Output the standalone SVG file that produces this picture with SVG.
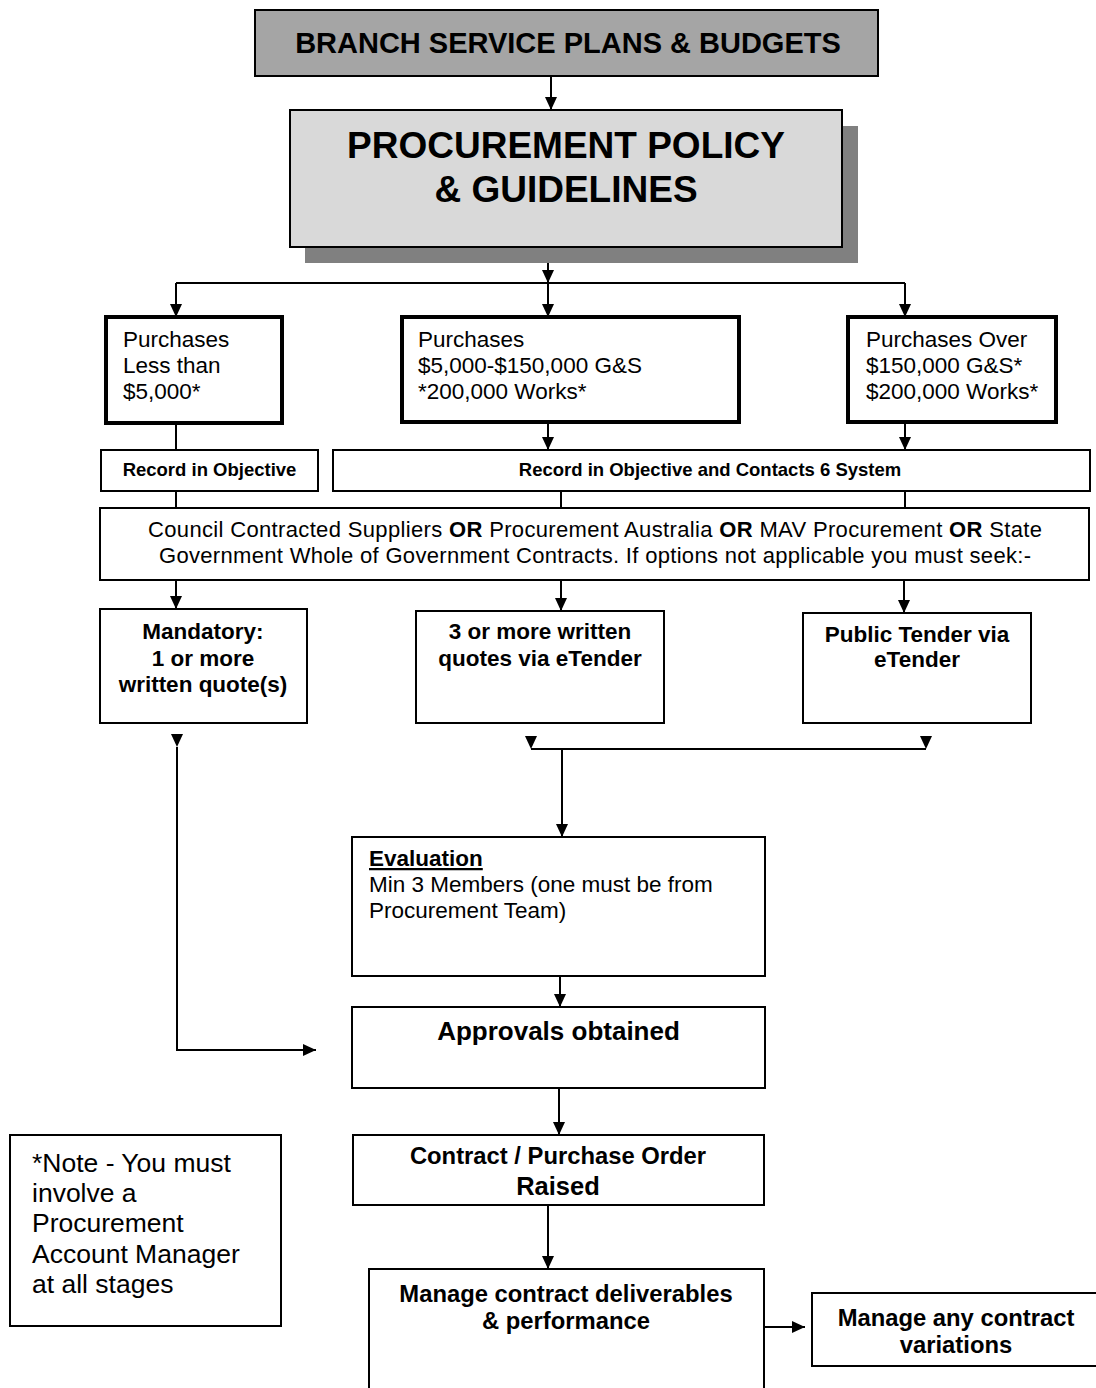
<svg xmlns="http://www.w3.org/2000/svg" width="1096" height="1388" viewBox="0 0 1096 1388">
<style>
text{font-family:"Liberation Sans",Arial,sans-serif;fill:#000}
.b{font-weight:bold}
.box{fill:#fff;stroke:#000;stroke-width:2}
.thick{fill:#fff;stroke:#000;stroke-width:4}
.c line,.c polyline{stroke:#000;stroke-width:2;fill:none}
.tri{fill:#000;stroke:none}
.mid{text-anchor:middle}
</style>
<defs>
<marker id="ah" markerUnits="userSpaceOnUse" viewBox="0 0 13 12" markerWidth="13" markerHeight="12" refX="13" refY="6" orient="auto">
<path d="M0,0 L13,6 L0,12 z" fill="#000"/>
</marker>
</defs>

<g id="connectors" class="c">
<line x1="551" y1="76" x2="551" y2="110" marker-end="url(#ah)"/>
<line x1="548" y1="247" x2="548" y2="283" marker-end="url(#ah)"/>
<line x1="176" y1="283" x2="905" y2="283"/>
<line x1="176" y1="283" x2="176" y2="317" marker-end="url(#ah)"/>
<line x1="548" y1="283" x2="548" y2="317" marker-end="url(#ah)"/>
<line x1="905" y1="283" x2="905" y2="317" marker-end="url(#ah)"/>
<line x1="176" y1="423" x2="176" y2="450"/>
<line x1="548" y1="422" x2="548" y2="450" marker-end="url(#ah)"/>
<line x1="905" y1="422" x2="905" y2="450" marker-end="url(#ah)"/>
<line x1="176" y1="491" x2="176" y2="508"/>
<line x1="561" y1="491" x2="561" y2="508"/>
<line x1="905" y1="491" x2="905" y2="508"/>
<line x1="176" y1="580" x2="176" y2="609" marker-end="url(#ah)"/>
<line x1="561" y1="580" x2="561" y2="611" marker-end="url(#ah)"/>
<line x1="904" y1="580" x2="904" y2="613" marker-end="url(#ah)"/>
<path class="tri" d="M171,734 L183,734 L177,747 z"/>
<path class="tri" d="M525,736 L537,736 L531,749 z"/>
<path class="tri" d="M920,736 L932,736 L926,749 z"/>
<polyline points="177,747 177,1050 316,1050" marker-end="url(#ah)"/>
<line x1="531" y1="749" x2="926" y2="749"/>
<line x1="562" y1="749" x2="562" y2="837" marker-end="url(#ah)"/>
<line x1="560" y1="976" x2="560" y2="1007" marker-end="url(#ah)"/>
<line x1="559" y1="1088" x2="559" y2="1135" marker-end="url(#ah)"/>
<line x1="548" y1="1205" x2="548" y2="1269" marker-end="url(#ah)"/>
<line x1="764" y1="1327" x2="805" y2="1327" marker-end="url(#ah)"/>
</g>

<g id="branch">
<rect x="255" y="10" width="623" height="66" fill="#a5a5a5" stroke="#000" stroke-width="2"/>
<text class="b mid" x="568" y="53" font-size="29">BRANCH SERVICE PLANS &amp; BUDGETS</text>
</g>

<g id="policy">
<rect x="305" y="126" width="553" height="137" fill="#808080"/>
<rect x="290" y="110" width="552" height="137" fill="#d9d9d9" stroke="#000" stroke-width="2"/>
<text class="b mid" x="566" y="158" font-size="37">PROCUREMENT POLICY</text>
<text class="b mid" x="566" y="202" font-size="37">&amp; GUIDELINES</text>
</g>

<g id="p-less">
<rect class="thick" x="106" y="317" width="176" height="106"/>
<text x="123" y="347" font-size="22.5">Purchases</text>
<text x="123" y="373" font-size="22.5">Less than</text>
<text x="123" y="399" font-size="22.5">$5,000*</text>
</g>

<g id="p-mid">
<rect class="thick" x="402" y="317" width="337" height="105"/>
<text x="418" y="347" font-size="22.5">Purchases</text>
<text x="418" y="373" font-size="22.5">$5,000-$150,000 G&amp;S</text>
<text x="418" y="399" font-size="22.5">*200,000 Works*</text>
</g>

<g id="p-over">
<rect class="thick" x="848" y="317" width="208" height="105"/>
<text x="866" y="347" font-size="22.5">Purchases Over</text>
<text x="866" y="373" font-size="22.5">$150,000 G&amp;S*</text>
<text x="866" y="399" font-size="22.5">$200,000 Works*</text>
</g>

<g id="rec1">
<rect class="box" x="101" y="450" width="217" height="41"/>
<text class="b mid" x="209.5" y="476" font-size="18.5">Record in Objective</text>
</g>

<g id="rec2">
<rect class="box" x="333" y="450" width="757" height="41"/>
<text class="b mid" x="710" y="476" font-size="18.5">Record in Objective and Contacts 6 System</text>
</g>

<g id="council">
<rect class="box" x="100" y="508" width="989" height="72"/>
<text class="mid" x="595" y="537" font-size="22" textLength="894">Council Contracted Suppliers <tspan class="b">OR</tspan> Procurement Australia <tspan class="b">OR</tspan> MAV Procurement <tspan class="b">OR</tspan> State</text>
<text class="mid" x="595" y="563" font-size="22" textLength="872">Government Whole of Government Contracts. If options not applicable you must seek:-</text>
</g>

<g id="mandatory">
<rect class="box" x="100" y="609" width="207" height="114"/>
<text class="b mid" x="203" y="639" font-size="22.5">Mandatory:</text>
<text class="b mid" x="203" y="666" font-size="22.5">1 or more</text>
<text class="b mid" x="203" y="692" font-size="22.5">written quote(s)</text>
</g>

<g id="three-quotes">
<rect class="box" x="416" y="611" width="248" height="112"/>
<text class="b mid" x="540" y="639" font-size="22.5">3 or more written</text>
<text class="b mid" x="540" y="666" font-size="22.5">quotes via eTender</text>
</g>

<g id="public-tender">
<rect class="box" x="803" y="613" width="228" height="110"/>
<text class="b mid" x="917" y="642" font-size="22.5">Public Tender via</text>
<text class="b mid" x="917" y="667" font-size="22.5">eTender</text>
</g>

<g id="evaluation">
<rect class="box" x="352" y="837" width="413" height="139"/>
<text class="b" x="369" y="866" font-size="22.5" text-decoration="underline">Evaluation</text>
<text x="369" y="892" font-size="22.5">Min 3 Members (one must be from</text>
<text x="369" y="918" font-size="22.5">Procurement Team)</text>
</g>

<g id="approvals">
<rect class="box" x="352" y="1007" width="413" height="81"/>
<text class="b mid" x="558.5" y="1040" font-size="26">Approvals obtained</text>
</g>

<g id="note">
<rect class="box" x="10" y="1135" width="271" height="191"/>
<text x="32" y="1172" font-size="26.5">*Note - You must</text>
<text x="32" y="1202" font-size="26.5">involve a</text>
<text x="32" y="1232" font-size="26.5">Procurement</text>
<text x="32" y="1263" font-size="26.5">Account Manager</text>
<text x="32" y="1293" font-size="26.5">at all stages</text>
</g>

<g id="contract">
<rect class="box" x="353" y="1135" width="411" height="70"/>
<text class="b mid" x="558" y="1164" font-size="23.8">Contract / Purchase Order</text>
<text class="b mid" x="558" y="1195" font-size="25.5">Raised</text>
</g>

<g id="manage">
<rect class="box" x="369" y="1269" width="395" height="140"/>
<text class="b mid" x="566" y="1302" font-size="23.8">Manage contract deliverables</text>
<text class="b mid" x="566" y="1329" font-size="23.8">&amp; performance</text>
</g>

<g id="variations">
<rect class="box" x="812" y="1293" width="300" height="73"/>
<text class="b mid" x="956" y="1326" font-size="23.8">Manage any contract</text>
<text class="b mid" x="956" y="1353" font-size="23.8">variations</text>
</g>
</svg>
